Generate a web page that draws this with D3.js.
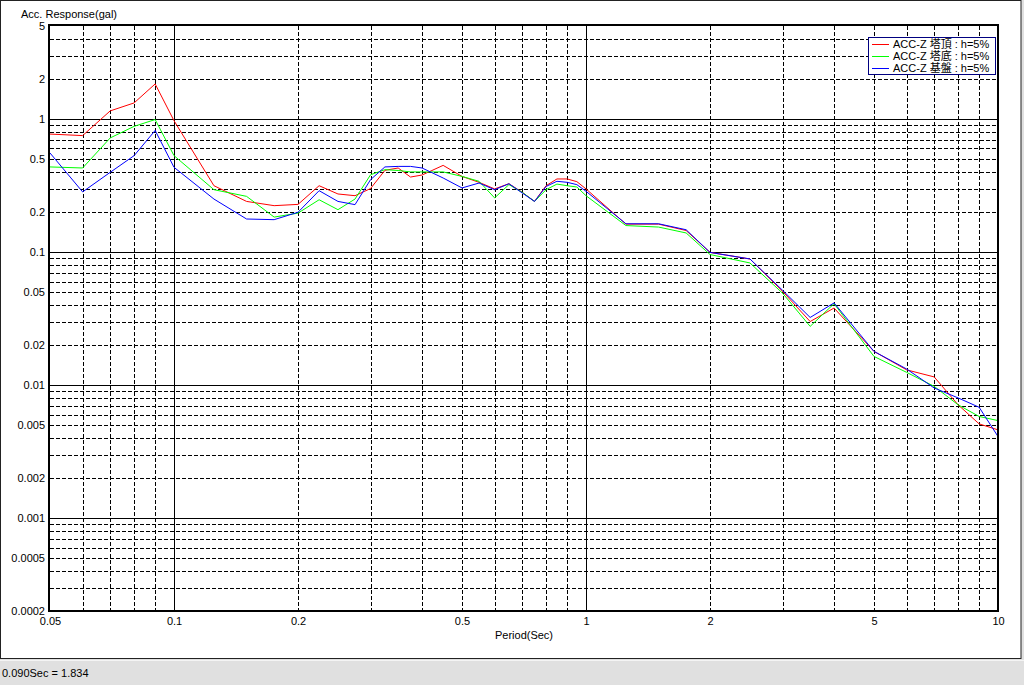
<!DOCTYPE html>
<html>
<head>
<meta charset="utf-8">
<script src="https://cdn.jsdelivr.net/npm/d3@7"></script>
<style>
  html, body { margin: 0; padding: 0; background: #e0e0e0; }
  svg { display: block; }
  text { font-family: "Liberation Sans", Arial, "Noto Sans CJK JP", sans-serif; font-size: 11px; fill: #000; }
</style>
</head>
<body>
<svg id="chart" width="1024" height="685"></svg>
<script>
// ---------- data ----------
const periods = [0.05,0.06,0.07,0.08,0.09,0.1,0.125,0.15,0.175,0.2,0.225,0.25,0.275,0.3,0.325,0.35,0.375,0.4,0.45,0.5,0.55,0.6,0.65,0.7,0.75,0.8,0.85,0.9,0.95,1.0,1.25,1.5,1.75,2.0,2.5,3.0,3.5,4.0,5.0,6.0,7.0,8.0,9.0,10.0];
const accTop = [0.77,0.75,1.15,1.32,1.834,0.97,0.315,0.24,0.223,0.228,0.315,0.273,0.265,0.30,0.411,0.428,0.366,0.379,0.448,0.37,0.334,0.298,0.326,0.281,0.24,0.315,0.354,0.354,0.338,0.298,0.162,0.162,0.145,0.0993,0.0886,0.0506,0.030,0.0379,0.0179,0.013,0.0115,0.0071,0.0051,0.0046];
const accBottom = [0.436,0.428,0.72,0.88,0.99,0.53,0.294,0.262,0.183,0.196,0.247,0.208,0.25,0.381,0.416,0.41,0.40,0.40,0.40,0.37,0.34,0.255,0.321,0.281,0.24,0.294,0.324,0.315,0.308,0.265,0.158,0.154,0.139,0.0957,0.0827,0.049,0.0276,0.0409,0.0164,0.01245,0.00977,0.0071,0.0058,0.0054];
const accBase = [0.555,0.283,0.397,0.53,0.82,0.433,0.25,0.177,0.175,0.199,0.289,0.24,0.227,0.35,0.436,0.44,0.44,0.428,0.36,0.303,0.33,0.294,0.326,0.278,0.24,0.311,0.34,0.334,0.321,0.286,0.163,0.163,0.147,0.0993,0.0886,0.0515,0.0322,0.0414,0.0179,0.0132,0.0095,0.008,0.0068,0.0041];
const seriesNames = ["ACC-Z 塔頂 : h=5%", "ACC-Z 塔底 : h=5%", "ACC-Z 基盤 : h=5%"];
const seriesColors = ["#ff0000", "#00ff00", "#0000ff"];
const xTickLabels = ["0.05","0.1","0.2","0.5","1","2","5","10"];
const yTickLabels = ["5","2","1","0.5","0.2","0.1","0.05","0.02","0.01","0.005","0.002","0.001","0.0005","0.0002"];
const yTitle = "Acc. Response(gal)";
const xTitle = "Period(Sec)";
const statusText = "0.090Sec = 1.834";

// ---------- layout ----------
const svg = d3.select("#chart");
const L = 50, R = 998, T = 26, B = 611;
const x = d3.scaleLog().domain([0.05, 10]).range([L, R]);
const y = d3.scaleLog().domain([0.0002, 5]).range([B, T]);

// panel
svg.append("rect").attr("x", 0.5).attr("y", 0.5).attr("width", 1020.5).attr("height", 658)
  .attr("fill", "#fff").attr("stroke", "#222").attr("stroke-width", 1);
// status bar
svg.append("rect").attr("x", 0).attr("y", 660).attr("width", 1024).attr("height", 25).attr("fill", "#e0e0e0");
svg.append("line").attr("x1", 0).attr("x2", 1024).attr("y1", 660.5).attr("y2", 660.5).attr("stroke", "#f4f4f4");
svg.append("text").attr("x", 2).attr("y", 677).text(statusText);

// grid values
function minorVals(lo, hi) {
  const out = [];
  for (let e = -4; e <= 1; e++) {
    for (let m = 2; m <= 9; m++) {
      const v = +(m * Math.pow(10, e)).toPrecision(6);
      if (v > lo * 1.0001 && v < hi * 0.9999) out.push(v);
    }
  }
  return out;
}
function majorVals(lo, hi) {
  const out = [];
  for (let e = -4; e <= 1; e++) {
    const v = +Math.pow(10, e).toPrecision(6);
    if (v > lo * 1.0001 && v < hi * 0.9999) out.push(v);
  }
  return out;
}
const g = svg.append("g");
g.selectAll(".hminor").data(minorVals(0.0002, 5)).enter().append("line")
  .attr("x1", L).attr("x2", R)
  .attr("y1", d => Math.round(y(d)) + 0.5).attr("y2", d => Math.round(y(d)) + 0.5)
  .attr("stroke", "#000").attr("stroke-dasharray", "4,2");
g.selectAll(".vminor").data(minorVals(0.05, 10)).enter().append("line")
  .attr("y1", T).attr("y2", B)
  .attr("x1", d => Math.round(x(d)) + 0.5).attr("x2", d => Math.round(x(d)) + 0.5)
  .attr("stroke", "#000").attr("stroke-dasharray", "4,2");
g.selectAll(".hmajor").data(majorVals(0.0002, 5)).enter().append("line")
  .attr("x1", L).attr("x2", R)
  .attr("y1", d => Math.round(y(d)) + 0.5).attr("y2", d => Math.round(y(d)) + 0.5)
  .attr("stroke", "#000");
g.selectAll(".vmajor").data(majorVals(0.05, 10)).enter().append("line")
  .attr("y1", T).attr("y2", B)
  .attr("x1", d => Math.round(x(d)) + 0.5).attr("x2", d => Math.round(x(d)) + 0.5)
  .attr("stroke", "#000");

// series
const allSeries = [accTop, accBottom, accBase];
const line = d3.line().x(d => x(d[0])).y(d => y(d[1]));
const plot = svg.append("g");
allSeries.forEach((vals, i) => {
  plot.append("path")
    .datum(periods.map((p, k) => [p, vals[k]]))
    .attr("d", line)
    .attr("fill", "none")
    .attr("stroke", seriesColors[i])
    .attr("stroke-width", 1);
});
// redraw so that blue sits on top like reference ordering (red, green, blue)

// frame
svg.append("rect").attr("x", L - 1).attr("y", T - 1).attr("width", R - L + 1).attr("height", B - T + 1)
  .attr("fill", "none").attr("stroke", "#000").attr("stroke-width", 2);

// axes labels via d3 axes
const yAxis = d3.axisLeft(y).tickValues(yTickLabels.map(Number)).tickSize(0).tickPadding(4)
  .tickFormat((d, i) => yTickLabels[i]);
const ya = svg.append("g").attr("transform", `translate(${L - 1},0)`).call(yAxis);
ya.select(".domain").remove();
ya.selectAll("text").style("font-family", "Liberation Sans, Arial, sans-serif").style("font-size", "11px").attr("fill", "#000");

const xAxis = d3.axisBottom(x).tickValues(xTickLabels.map(Number)).tickSize(0).tickPadding(6)
  .tickFormat((d, i) => xTickLabels[i]);
const xa = svg.append("g").attr("transform", `translate(0,${B})`).call(xAxis);
xa.select(".domain").remove();
xa.selectAll("text").style("font-family", "Liberation Sans, Arial, sans-serif").style("font-size", "11px").attr("fill", "#000");

svg.append("text").attr("x", 21).attr("y", 18).text(yTitle);
svg.append("text").attr("x", (L + R) / 2).attr("y", 639).attr("text-anchor", "middle").text(xTitle);

// legend
const lg = svg.append("g");
lg.append("rect").attr("x", 868.5).attr("y", 37.5).attr("width", 127).attr("height", 37)
  .attr("fill", "#fff").attr("stroke", "#000080").attr("stroke-width", 1);
seriesNames.forEach((n, i) => {
  const yy = 44 + i * 12;
  lg.append("line").attr("x1", 872).attr("x2", 889).attr("y1", yy + 0.5).attr("y2", yy + 0.5)
    .attr("stroke", seriesColors[i]).attr("stroke-width", 1);
  lg.append("text").attr("x", 893).attr("y", yy + 4)
    .style("font-family", "Liberation Sans, 'Noto Sans CJK JP', sans-serif")
    .style("font-size", "11px").text(n);
});
</script>
</body>
</html>
